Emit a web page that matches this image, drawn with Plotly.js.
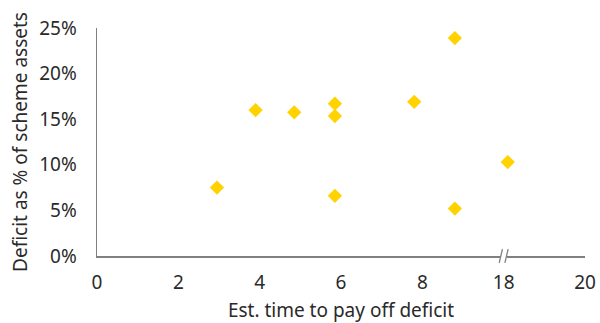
<!DOCTYPE html>
<html>
<head>
<meta charset="utf-8">
<script src="https://cdn.plot.ly/plotly-3.0.1.min.js"></script>
<style>
  html, body { margin: 0; padding: 0; background: #fff; }
  #chart { width: 600px; height: 323px; }
</style>
</head>
<body>
<div id="chart"></div>
<script>
// Estimated years to pay off the deficit, per scheme
const payoffYears = [2.95, 3.9, 4.85, 5.85, 5.85, 5.85, 7.8, 8.8, 8.8, 18.1];
// Deficit as a share of scheme assets (%)
const deficitPct = [7.5, 16.0, 15.75, 16.7, 15.35, 6.6, 16.9, 23.9, 5.2, 10.3];

// Tick labels on the broken x axis
const xTickLabels = ['0', '2', '4', '6', '8', '18', '20'];
const yTickValues = [0, 5, 10, 15, 20, 25];

// The x axis is broken between 8 and 18: values from 18 upwards
// are shifted down so that 18 sits one tick step after 8.
const breakStart = 8, breakEnd = 18, tickStep = 2;
function toAxis(v) {
  return v >= breakEnd ? v - (breakEnd - breakStart - tickStep) : v;
}
const xTickVals = xTickLabels.map(t => toAxis(Number(t)));
const breakPos = toAxis(breakEnd);

const trace = {
  type: 'scatter',
  mode: 'markers',
  x: payoffYears.map(toAxis),
  y: deficitPct,
  marker: { symbol: 'diamond', size: 11, color: '#FFD200', line: { width: 0 } },
  hoverinfo: 'skip'
};

const font = { family: 'Noto Sans, Open Sans, sans-serif', size: 19, color: '#2a2a2a' };
const axisGrey = '#808080';

// Axis-break marker "//" on the x axis
const shapes = [];
[-3.5, 3.5].forEach(off => {
  shapes.push({
    type: 'line', xref: 'x', yref: 'paper', layer: 'above',
    x0: breakPos - 0.04 + off * 0.02, x1: breakPos + 0.04 + off * 0.02,
    y0: -0.03, y1: 0.03,
    line: { color: axisGrey, width: 1.3 }
  });
});
shapes.unshift({
  type: 'rect', xref: 'x', yref: 'paper', layer: 'above',
  x0: breakPos - 0.08, x1: breakPos + 0.08, y0: -0.012, y1: 0.012,
  fillcolor: '#fff', line: { width: 0 }
});

const layout = {
  width: 600, height: 323,
  margin: { l: 97, r: 15, t: 28, b: 67 },
  paper_bgcolor: '#fff', plot_bgcolor: '#fff',
  font: font,
  showlegend: false,
  xaxis: {
    range: [0, 12],
    tickvals: xTickVals, ticktext: xTickLabels,
    showgrid: false, zeroline: false,
    showline: true, linecolor: axisGrey, linewidth: 1.5,
    ticks: '', ticklabelstandoff: 9,
    title: { text: 'Est. time to pay off deficit', font: font, standoff: 12 }
  },
  yaxis: {
    range: [0, 25],
    tickvals: yTickValues, ticktext: yTickValues.map(v => v + '%'),
    showgrid: false, zeroline: false,
    showline: true, linecolor: axisGrey, linewidth: 1.5,
    ticks: '', ticklabelstandoff: 15,
    title: { text: 'Deficit as % of scheme assets', font: font, standoff: 6 }
  },
  shapes: shapes
};

Plotly.newPlot('chart', [trace], layout, { staticPlot: true, displayModeBar: false });
</script>
</body>
</html>
